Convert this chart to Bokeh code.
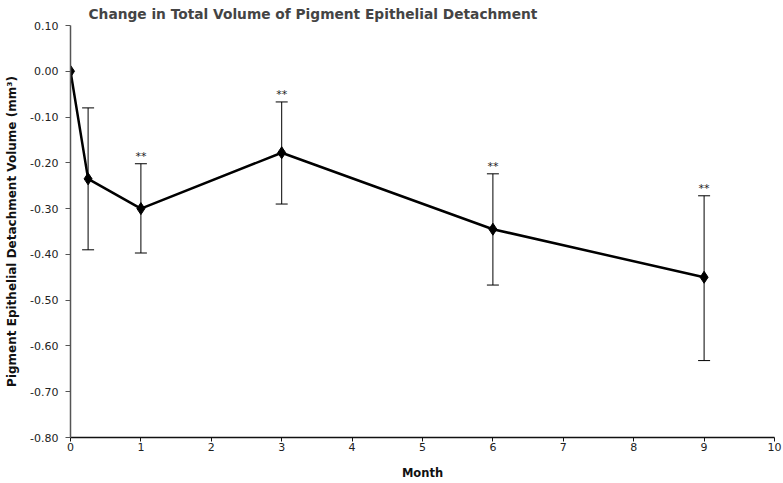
from bokeh.plotting import figure
from bokeh.models import Range1d, NumeralTickFormatter, FixedTicker, Whisker, ColumnDataSource
from bokeh.core.properties import value
from bokeh.embed import file_html
from bokeh.resources import INLINE

months = [0, 0.25, 1, 3, 6, 9]
volume_change = [0.0, -0.235, -0.300, -0.178, -0.345, -0.450]
err_upper = [0.0, -0.080, -0.202, -0.067, -0.224, -0.272]
err_lower = [0.0, -0.390, -0.397, -0.290, -0.467, -0.632]
sig_months = [1, 3, 6, 9]
sig_upper = [-0.202, -0.067, -0.224, -0.272]
sig_labels = ["**", "**", "**", "**"]
x_ticks = [0, 1, 2, 3, 4, 5, 6, 7, 8, 9, 10]
y_ticks = [0.10, 0.00, -0.10, -0.20, -0.30, -0.40, -0.50, -0.60, -0.70, -0.80]

FONT = "DejaVu Sans"

p = figure(width=782, height=482, output_backend="svg", toolbar_location=None,
           x_range=Range1d(0, 10), y_range=Range1d(-0.8, 0.1),
           min_border_left=70, min_border_right=8, min_border_top=0, min_border_bottom=43)

p.title.text = "Change in Total Volume of Pigment Epithelial Detachment"
p.title.text_font = FONT
p.title.text_font_size = "13.75px"
p.title.text_font_style = "bold"
p.title.align = "left"
p.title.offset = 18
p.title.standoff = 7

p.outline_line_color = None
p.xgrid.grid_line_color = None
p.ygrid.grid_line_color = None
p.background_fill_color = "white"

p.xaxis.ticker = FixedTicker(ticks=x_ticks)
p.yaxis.ticker = FixedTicker(ticks=y_ticks)
p.yaxis.formatter = NumeralTickFormatter(format="0.00")
for ax in (p.xaxis, p.yaxis):
    ax.major_label_text_font = FONT
    ax.major_label_text_font_size = "11px"
    ax.major_label_text_color = "#222222"
    ax.axis_label_text_font = FONT
    ax.axis_label_text_font_style = "bold"
    ax.axis_label_text_color = "#111111"
    ax.minor_tick_line_color = None
    ax.major_tick_in = 0
    ax.major_tick_out = 4
    ax.axis_line_width = 1.5
    ax.major_tick_line_width = 1
p.xaxis.axis_label_text_font_size = "11.5px"
p.yaxis.axis_label_text_font_size = "12px"
p.xaxis.axis_line_color = "#111111"
p.yaxis.axis_line_color = "#555555"
p.xaxis.major_tick_line_color = "#111111"
p.yaxis.major_tick_line_color = "#555555"
p.xaxis.axis_label = "Month"
p.yaxis.axis_label = "Pigment Epithelial Detachment Volume (mm³)"
p.xaxis.major_label_standoff = 1
p.yaxis.major_label_standoff = 7
p.yaxis.major_tick_out = 5
p.xaxis.axis_label_standoff = 12
p.yaxis.axis_label_standoff = 8

src = ColumnDataSource(dict(x=months[1:], y=volume_change[1:], upper=err_upper[1:], lower=err_lower[1:]))
w = Whisker(source=src, base="x", upper="upper", lower="lower", line_color="black", line_width=1)
w.upper_head.size = 12
w.lower_head.size = 12
w.upper_head.line_color = "black"
w.lower_head.line_color = "black"
p.add_layout(w)

p.line(months, volume_change, line_color="black", line_width=2.5)
p.scatter(months, volume_change, marker="diamond", size=12, color="black")

p.text(x=sig_months, y=sig_upper, text=sig_labels, text_align="center", text_baseline="bottom",
       y_offset=-1, text_font=value(FONT), text_font_size="11px", text_color="#222222")

open("out.html", "w").write(file_html(p, INLINE))
